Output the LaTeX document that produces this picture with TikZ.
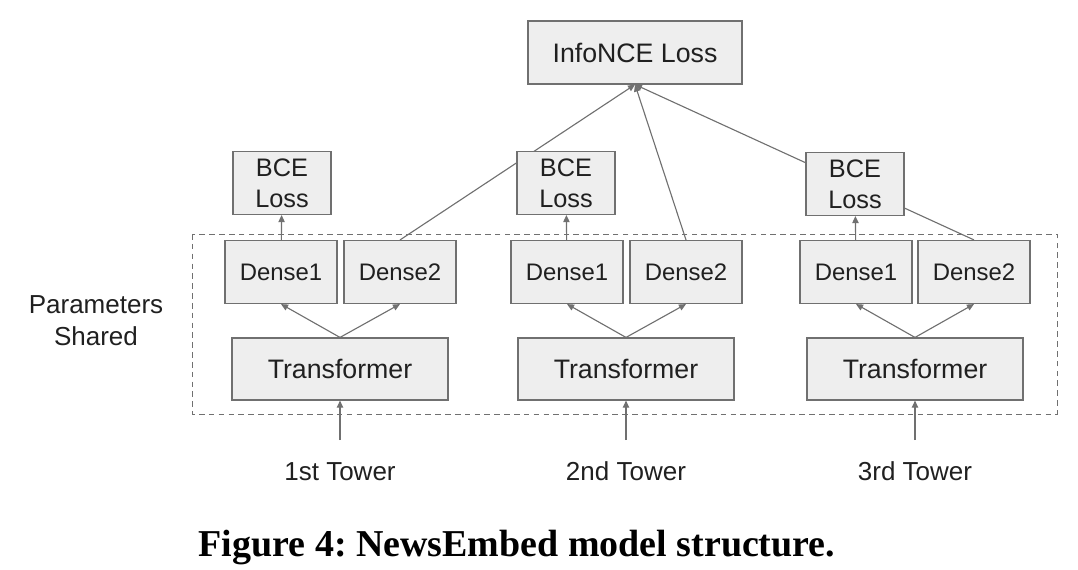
\documentclass[tikz,border=0pt]{standalone}
\usepackage{fontspec}
\setsansfont{Liberation Sans}
\newfontfamily\capfont{Liberation Serif}
\usetikzlibrary{arrows.meta}
\definecolor{boxfill}{HTML}{EEEEEE}
\definecolor{boxline}{HTML}{707070}
\definecolor{txt}{HTML}{202020}
\begin{document}
\begin{tikzpicture}[x=0.025cm, y=-0.025cm, font=\sffamily,
  box/.style={draw=boxline, fill=boxfill, line width=0.8pt, text=txt, inner sep=0pt, align=center},
  dense/.style={box, minimum width=2.8cm, minimum height=1.575cm, font=\sffamily\fontsize{17}{20}\selectfont},
  bce/.style={box, minimum width=2.45cm, minimum height=1.575cm, font=\sffamily\fontsize{18}{22.3}\selectfont},
  tfm/.style={box, minimum width=5.4cm, minimum height=1.55cm, font=\sffamily\fontsize{19}{22}\selectfont},
  lbl/.style={text=txt, font=\sffamily\fontsize{18.5}{22.8}\selectfont, align=center},
  arr/.style={draw=boxline, line width=0.8pt, -{Triangle[length=5pt,width=4.5pt]}}]
  \useasboundingbox (0,0) rectangle (1078,570);
  % shared parameters
  \draw[boxline, line width=0.7pt, dash pattern=on 4pt off 3pt] (192,234) rectangle (1057,414);
  \node[lbl] (shared) at (96,321) {Parameters\\Shared};
  % loss on top
  \node[box, minimum width=5.35cm, minimum height=1.575cm, font=\sffamily\fontsize{19}{22}\selectfont] (info) at (635,52.5) {InfoNCE Loss};
  % towers
  \node[tfm] (tf1) at (340,369) {Transformer};
  \node[tfm] (tf2) at (626,369) {Transformer};
  \node[tfm] (tf3) at (915,369) {Transformer};
  \node[dense] (da1) at (281,272) {Dense1};
  \node[dense] (db1) at (400,272) {Dense2};
  \node[dense] (da2) at (567,272) {Dense1};
  \node[dense] (db2) at (686,272) {Dense2};
  \node[dense] (da3) at (856,272) {Dense1};
  \node[dense] (db3) at (974,272) {Dense2};
  % into InfoNCE, behind the BCE boxes
  \draw[arr] (db1.north) -- (info.south);
  \draw[arr] (db2.north) -- (info.south);
  \draw[arr] (db3.north) -- (info.south);
  \node[bce] (bce1) at (282,183) {BCE\\Loss};
  \node[bce] (bce2) at (566,183) {BCE\\Loss};
  \node[bce] (bce3) at (855,184) {BCE\\Loss};
  \draw[arr] (da1) -- (bce1);
  \draw[arr] (da2) -- (bce2);
  \draw[arr] (da3) -- (bce3);
  \draw[arr] (tf1.north) -- (da1.south);
  \draw[arr] (tf1.north) -- (db1.south);
  \draw[arr] (tf2.north) -- (da2.south);
  \draw[arr] (tf2.north) -- (db2.south);
  \draw[arr] (tf3.north) -- (da3.south);
  \draw[arr] (tf3.north) -- (db3.south);
  % inputs
  \node[lbl, anchor=base] (in1) at (340,480) {1st Tower};
  \node[lbl, anchor=base] (in2) at (626,480) {2nd Tower};
  \node[lbl, anchor=base] (in3) at (915,480) {3rd Tower};
  \coordinate (s1) at (340,440);
  \coordinate (s2) at (626,440);
  \coordinate (s3) at (915,440);
  \draw[arr] (s1) -- (tf1);
  \draw[arr] (s2) -- (tf2);
  \draw[arr] (s3) -- (tf3);
  \node[anchor=base, font=\capfont\bfseries\fontsize{27}{32}\selectfont] (caption) at (517,556) {\frenchspacing Figure 4: NewsEmbed model structure.};
\end{tikzpicture}
\end{document}
